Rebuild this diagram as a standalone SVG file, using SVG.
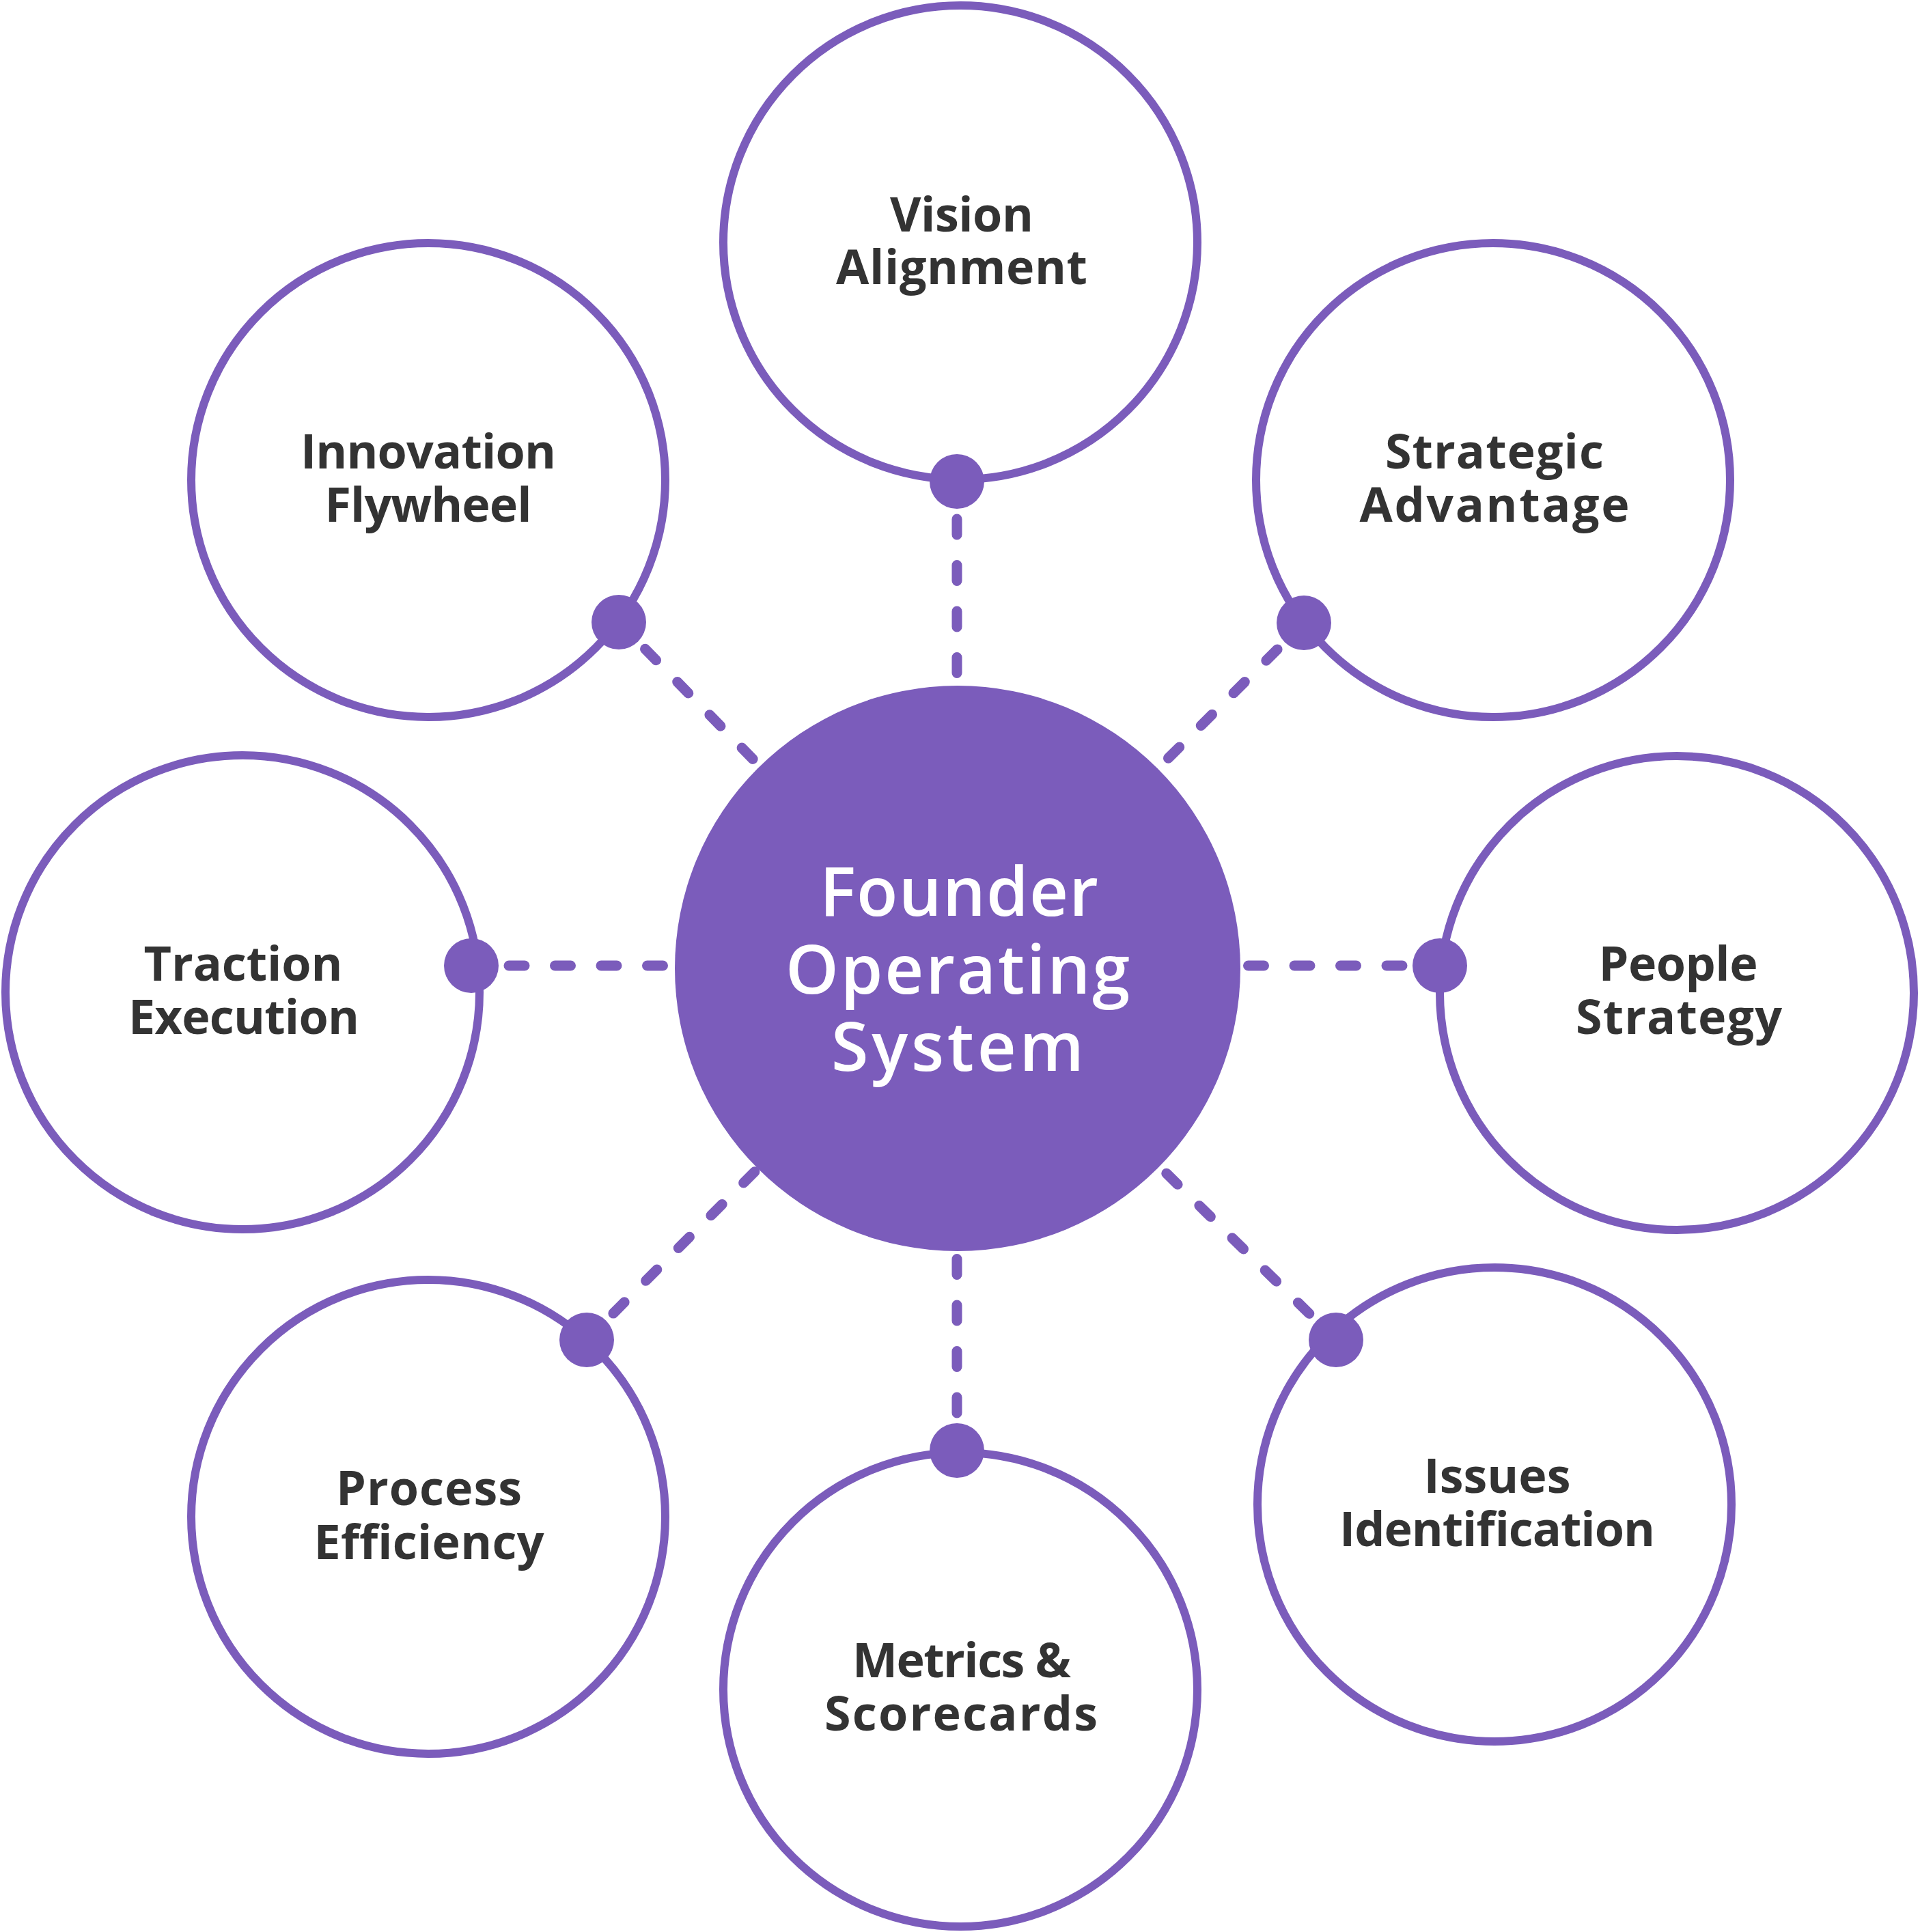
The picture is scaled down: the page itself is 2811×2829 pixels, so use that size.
<svg xmlns="http://www.w3.org/2000/svg" width="2811" height="2829" viewBox="0 0 2811 2829">
<style>
.ring{fill:#ffffff;stroke:#7b5cbb;stroke-width:12}
.hub{fill:#7b5cbb}
.dot{fill:#7b5cbb}
.dash{stroke:#7b5cbb;stroke-width:15;stroke-linecap:round;stroke-dasharray:23 44.5;fill:none}
.lbl{font-family:"Open Sans","Noto Sans","Liberation Sans",sans-serif;font-weight:700;font-size:70px;fill:#333333;text-anchor:middle}
.hubt{font-family:"Open Sans","Noto Sans","Liberation Sans",sans-serif;font-weight:600;font-size:99px;fill:#ffffff;text-anchor:middle}
</style>
<rect width="2811" height="2829" fill="#ffffff"/>
<g id="node-vision"><circle class="ring" cx="1406" cy="355" r="347"/><text class="lbl"><tspan x="1408" y="339" textLength="210">Vision</tspan><tspan x="1408" y="416" textLength="368">Alignment</tspan></text></g>
<g id="node-strategic"><circle class="ring" cx="2186" cy="703" r="347"/><text class="lbl"><tspan x="2188" y="686" textLength="320">Strategic</tspan><tspan x="2188" y="764" textLength="395">Advantage</tspan></text></g>
<g id="node-people"><circle class="ring" cx="2455" cy="1454" r="347"/><text class="lbl"><tspan x="2457" y="1436" textLength="233">People</tspan><tspan x="2458" y="1514" textLength="302">Strategy</tspan></text></g>
<g id="node-issues"><circle class="ring" cx="2188" cy="2203" r="347"/><text class="lbl"><tspan x="2192" y="2186" textLength="215">Issues</tspan><tspan x="2192" y="2264" textLength="462">Identification</tspan></text></g>
<g id="node-metrics"><circle class="ring" cx="1406" cy="2474" r="347"/><text class="lbl"><tspan x="1408" y="2456" textLength="320">Metrics &amp;</tspan><tspan x="1407" y="2534" textLength="400">Scorecards</tspan></text></g>
<g id="node-process"><circle class="ring" cx="627" cy="2221" r="347"/><text class="lbl"><tspan x="628" y="2204" textLength="272">Process</tspan><tspan x="628" y="2283" textLength="337">Efficiency</tspan></text></g>
<g id="node-traction"><circle class="ring" cx="355" cy="1453" r="347"/><text class="lbl"><tspan x="356" y="1436" textLength="291">Traction</tspan><tspan x="357" y="1514" textLength="338">Execution</tspan></text></g>
<g id="node-innovation"><circle class="ring" cx="627" cy="703" r="347"/><text class="lbl"><tspan x="627" y="686" textLength="374">Innovation</tspan><tspan x="627" y="764" textLength="303">Flywheel</tspan></text></g>
<g id="connectors">
<line class="dash" x1="1401" y1="760" x2="1401" y2="1418"/>
<line class="dash" x1="1870.1" y1="950.9" x2="1402" y2="1418"/>
<line class="dash" x1="2053" y1="1414" x2="1402" y2="1414"/>
<line class="dash" x1="1916.8" y1="1923.5" x2="1402" y2="1418"/>
<line class="dash" x1="1401" y1="2069" x2="1401" y2="1418"/>
<line class="dash" x1="897.9" y1="1923.1" x2="1402" y2="1418"/>
<line class="dash" x1="745" y1="1414" x2="1402" y2="1414"/>
<line class="dash" x1="944.5" y1="950.3" x2="1402" y2="1418"/>
</g>
<g id="node-hub"><circle class="hub" cx="1402" cy="1418" r="414"/><text class="hubt"><tspan x="1404" y="1341" textLength="408">Founder</tspan><tspan x="1402" y="1455" textLength="504">Operating</tspan><tspan x="1402" y="1568" textLength="370">System</tspan></text></g>
<g id="ports">
<circle class="dot" cx="1401" cy="705" r="40"/>
<circle class="dot" cx="1909" cy="912" r="40"/>
<circle class="dot" cx="2108" cy="1414" r="40"/>
<circle class="dot" cx="1956" cy="1962" r="40"/>
<circle class="dot" cx="1401" cy="2124" r="40"/>
<circle class="dot" cx="859" cy="1962" r="40"/>
<circle class="dot" cx="690" cy="1414" r="40"/>
<circle class="dot" cx="906" cy="911" r="40"/>
</g>
</svg>
